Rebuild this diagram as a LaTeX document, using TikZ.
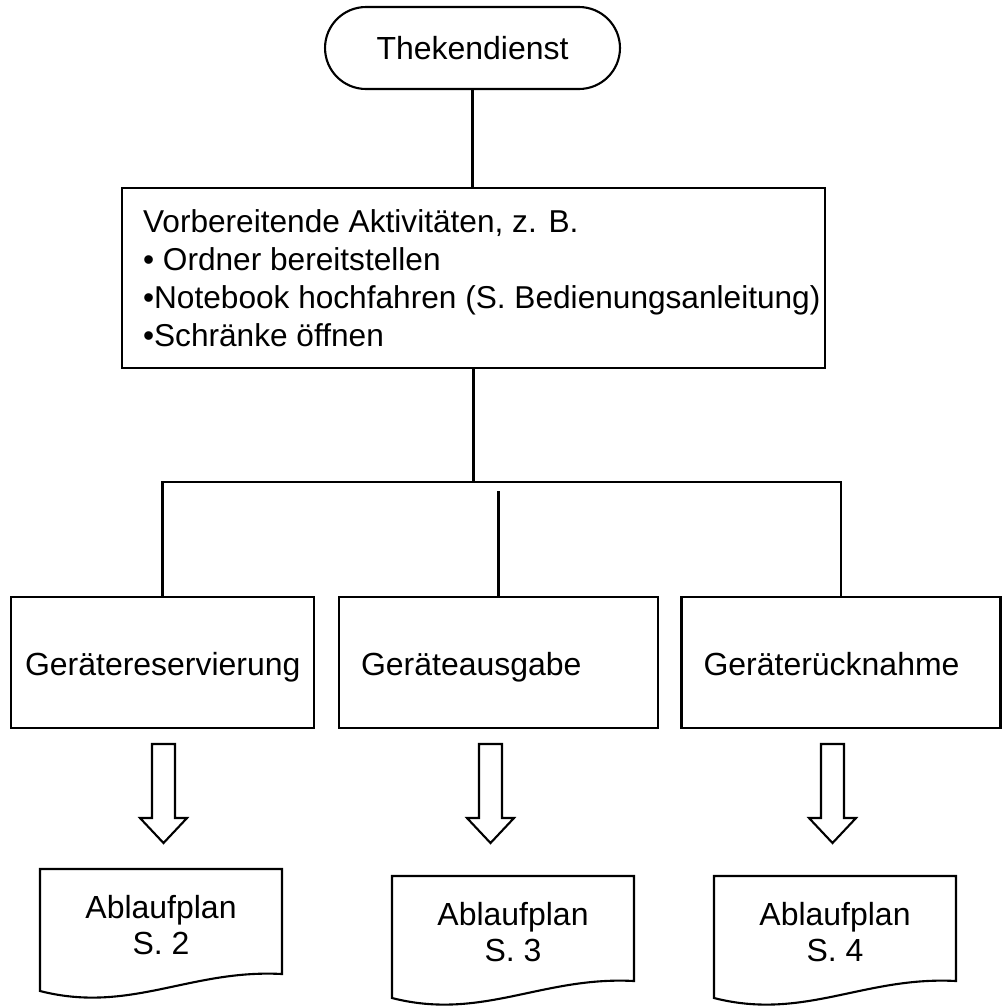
\documentclass[tikz,border=0pt]{standalone}
\usepackage{fontspec}
\setmainfont{Liberation Sans}
\usetikzlibrary{shapes.misc,positioning}

\begin{document}
\begin{tikzpicture}[x=0.02cm,y=-0.02cm,line width=1.2pt,
  every node/.style={font=\fontsize{18.2}{21.6}\selectfont},
  term/.style={draw,rounded rectangle,minimum width=5.9cm,minimum height=1.64cm,inner sep=0pt},
  proc/.style={draw,align=left,text width=5.5cm,text height=0.62cm,text depth=0.12cm,
    minimum height=2.62cm},
  plan/.style={align=center,inner sep=0pt,font=\fontsize{18.2}{20.8}\selectfont}]
\useasboundingbox (0,0) rectangle (1006,1005);

\node [term] (thek) at (472.5,48) {Thekendienst};
\node [draw,minimum width=14.06cm,minimum height=3.6cm] (prep) at (473.5,278) {};
\node [anchor=west,align=left,inner sep=0pt,font=\fontsize{18}{21.6}\selectfont]
  (preptext) at ([xshift=0.42cm]prep.west)
  {Vorbereitende Aktivitäten, z. B.\\
   • Ordner bereitstellen\\
   •Notebook hochfahren (S. Bedienungsanleitung)\\
   •Schränke öffnen};

\node [proc,inner xsep=0.28cm] (res) at (162.5,662.5) {Gerätereservierung};
\node [proc,inner xsep=0.445cm] (out) at (498.5,662.5) {Geräteausgabe};
\node [proc,inner xsep=0.44cm] (ret) at (841,662.5) {Geräterücknahme};

% lines
\coordinate (bus) at (473.5,482);
\coordinate (midtop) at (498.5,491);
\draw (thek.south) -- (thek.south |- prep.north);
\draw (prep.south) -- (bus);
\draw (res.north) |- (bus) -| (ret.north);
\draw (out.north) -- (midtop);

% block arrows
\foreach \x in {163.5,490.5,832.5}
  \draw (\x-11.5,744) -- (\x+11.5,744) -- (\x+11.5,818) -- (\x+23.5,818)
    -- (\x,843) -- (\x-23.5,818) -- (\x-11.5,818) -- cycle;

% documents
\foreach \x/\y/\n in {40/869/2,392/876/3,714/876/4} {
  \draw (\x,\y) -- (\x+242,\y) -- (\x+242,\y+105)
    .. controls (\x+150,\y+100) and (\x+90,\y+145) .. (\x,\y+122) -- cycle;
  \node [plan] (plan\n) at (\x+121,\y+56) {Ablaufplan\\S. \n};
}
\end{tikzpicture}
\end{document}
